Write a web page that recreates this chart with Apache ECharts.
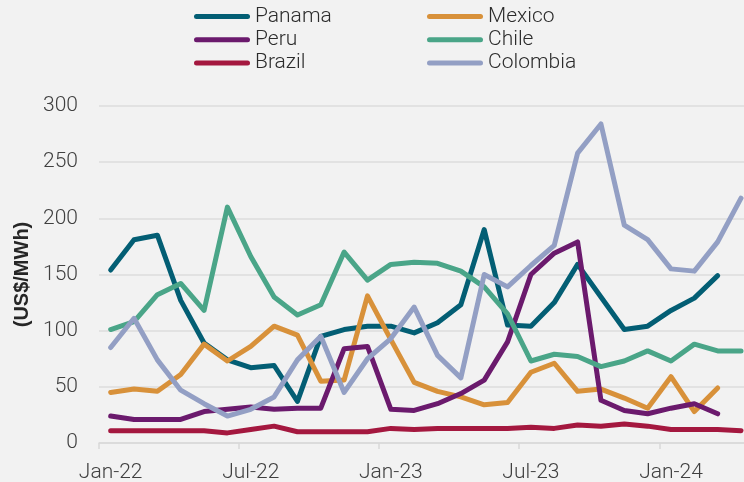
<!DOCTYPE html>
<html>
<head>
<meta charset="utf-8">
<script src="https://cdn.jsdelivr.net/npm/echarts@6/dist/echarts.min.js"></script>
<style>
  html, body { margin: 0; padding: 0; background: #f2f2f2; }
  #chart { width: 744px; height: 482px; }
</style>
</head>
<body>
<div id="chart"></div>
<script>
// Monthly categories, Jan-22 .. Apr-24
const months = ['Jan-22','Feb-22','Mar-22','Apr-22','May-22','Jun-22','Jul-22','Aug-22','Sep-22','Oct-22','Nov-22','Dec-22',
                'Jan-23','Feb-23','Mar-23','Apr-23','May-23','Jun-23','Jul-23','Aug-23','Sep-23','Oct-23','Nov-23','Dec-23',
                'Jan-24','Feb-24','Mar-24','Apr-24'];

// Prices in US$/MWh
const panama   = [154,181,185,127,89,74,67,69,37,95,101,104,104,98,107,123,190,105,104,125,159,130,101,104,118,129,149,null];
const mexico   = [45,48,46,61,88,73,86,104,96,55,56,131,92,54,46,41,34,36,63,71,46,48,40,31,59,28,49,null];
const peru     = [24,21,21,21,28,30,32,30,31,31,84,86,30,29,35,44,56,90,150,169,179,38,29,26,31,35,26,null];
const chile    = [101,108,132,142,118,210,166,130,114,123,170,145,159,161,160,153,139,115,73,79,77,68,73,82,73,88,82,82];
const brazil   = [11,11,11,11,11,9,12,15,10,10,10,10,13,12,13,13,13,13,14,13,16,15,17,15,12,12,12,11];
const colombia = [85,111,74,47,35,24,30,41,74,95,45,75,93,121,78,58,150,139,158,176,258,284,194,181,155,153,179,218];

const yTicks = { min: 0, max: 300, step: 50 };

const colors = {
  Panama: '#035e74',
  Mexico: '#d8913a',
  Peru: '#6b1a6d',
  Chile: '#4aa588',
  Brazil: '#a4183f',
  Colombia: '#939fc4'
};

const seriesData = [
  ['Panama', panama],
  ['Mexico', mexico],
  ['Peru', peru],
  ['Chile', chile],
  ['Brazil', brazil],
  ['Colombia', colombia]
];

const fontFamily = 'Roboto, "Noto Sans", sans-serif';
const capsule = 'path://M2.5,0 L53.5,0 A2.5,2.5 0 0 1 53.5,5 L2.5,5 A2.5,2.5 0 0 1 2.5,0 Z';

function legendBlock(names, left) {
  return {
    data: names.map(n => ({ name: n, icon: capsule })),
    orient: 'vertical',
    left: left,
    top: 6,
    itemWidth: 56,
    itemHeight: 5,
    itemGap: 2.3,
    itemTextGap: 4,
    padding: 0,
    textStyle: { fontFamily, fontSize: 21, fontWeight: 300, color: '#2b2b2b', lineHeight: 21 }
  };
}

const chart = echarts.init(document.getElementById('chart'), null, { renderer: 'canvas' });
chart.setOption({
  backgroundColor: '#f2f2f2',
  animation: false,
  legend: [
    legendBlock(['Panama', 'Peru', 'Brazil'], 194),
    legendBlock(['Mexico', 'Chile', 'Colombia'], 427)
  ],
  // the plot band runs a little past the right edge of the canvas
  grid: { left: 99, width: 653.7, top: 106, height: 337, containLabel: false, outerBoundsMode: 'none' },
  xAxis: {
    type: 'category',
    data: months,
    boundaryGap: true,
    axisLine: { lineStyle: { color: '#d9d9d9', width: 1.5 } },
    axisTick: { show: true, interval: 5, length: 6, lineStyle: { color: '#d9d9d9', width: 1.5 } },
    axisLabel: { interval: 5, margin: 19, fontFamily, fontSize: 21, fontWeight: 300, color: '#404040' },
    splitLine: { show: false }
  },
  yAxis: {
    type: 'value',
    min: yTicks.min,
    max: yTicks.max,
    interval: yTicks.step,
    name: '(US$/MWh)',
    nameLocation: 'middle',
    nameGap: 66,
    nameTextStyle: { fontFamily: '"Liberation Sans", Arial, sans-serif', fontSize: 20, fontWeight: 'bold', color: '#262626' },
    axisLine: { show: false },
    axisTick: { show: false },
    axisLabel: { margin: 21, fontFamily, fontSize: 21, fontWeight: 300, color: '#404040' },
    splitLine: { lineStyle: { color: '#dcdcdc', width: 1.5 } }
  },
  series: seriesData.map(([name, values]) => ({
    name,
    type: 'line',
    data: values,
    showSymbol: false,
    symbol: 'none',
    color: colors[name],
    lineStyle: { width: 5, color: colors[name], cap: 'round', join: 'round' },
    emphasis: { disabled: true }
  }))
});
</script>
</body>
</html>
